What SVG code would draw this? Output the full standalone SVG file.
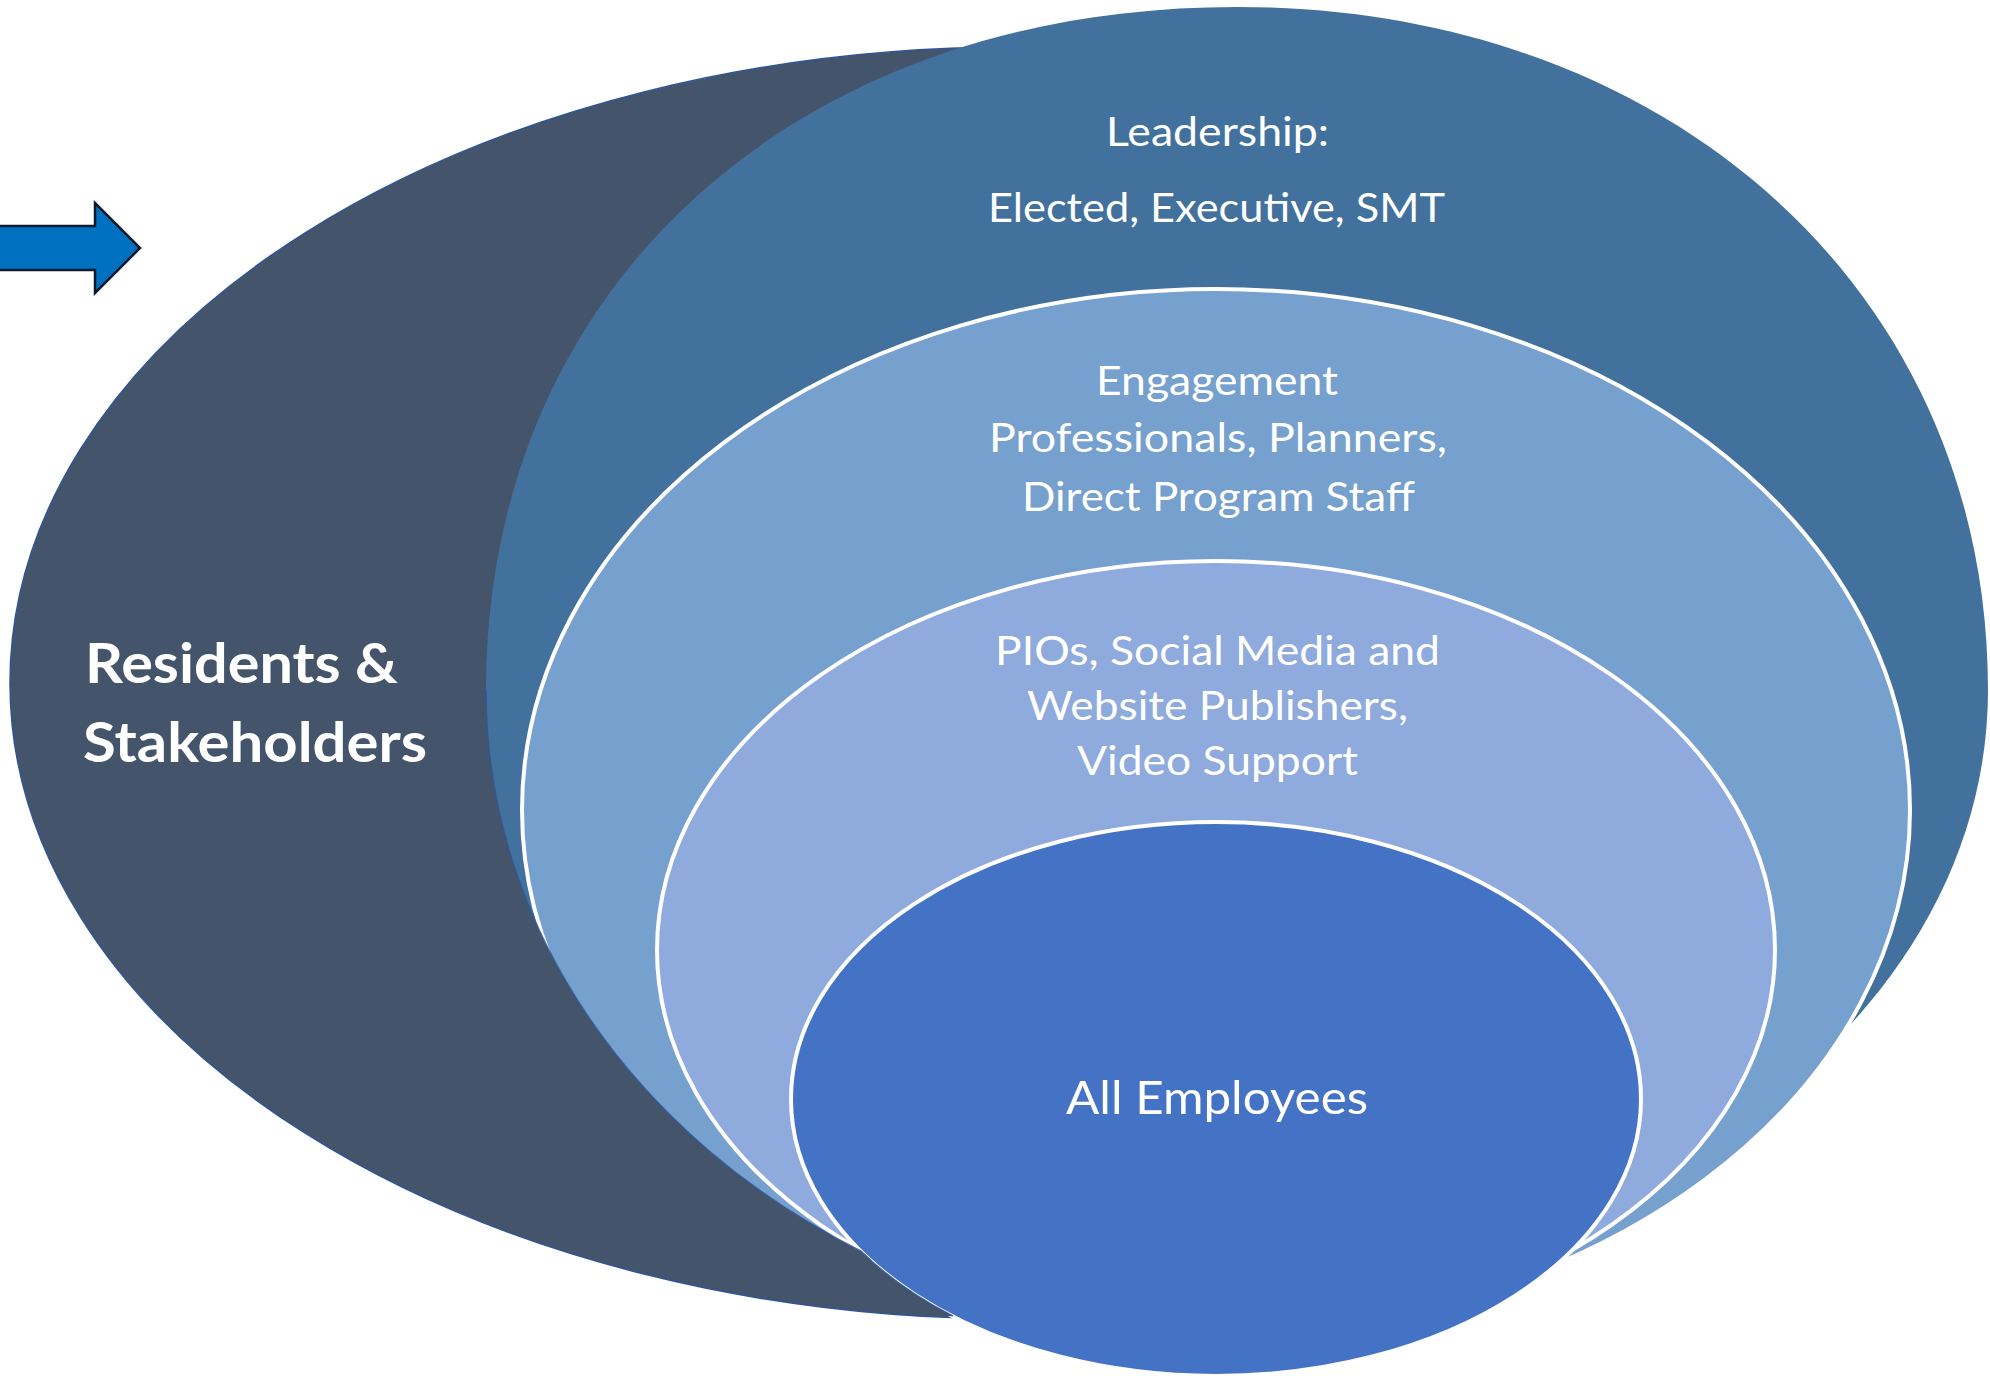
<svg xmlns="http://www.w3.org/2000/svg" width="1990" height="1376" viewBox="0 0 1990 1376">
<style>
.txt{font-family:Lato,"Liberation Sans",sans-serif;fill:#ffffff;}
.reg{font-size:40px;}
.big{font-size:47px;}
.bold{font-size:56px;font-weight:bold;}
.ring{stroke:#ffffff;stroke-width:4;}
</style>
<defs>
<clipPath id="cut">
<path clip-rule="evenodd" d="M0,0 H1990 V1376 H0 Z M0,690 L486,690 C486,929.8 637,1139.2 861.3,1251.2 A422.5 274.5 0 0 0 953,1316 L0,1376 Z"/>
</clipPath>
</defs>
<rect width="1990" height="1376" fill="#ffffff"/>
<g id="residents">
<path fill="#44546A" stroke="#2F5597" stroke-width="1.5" d="M1015,47 A1005,636 0 0 0 10,683 A1005,636 0 0 0 1015,1319 Z"/>
<text class="txt bold" x="85" y="683" textLength="313" lengthAdjust="spacingAndGlyphs">Residents &amp;</text>
<text class="txt bold" x="83" y="762" textLength="344" lengthAdjust="spacingAndGlyphs">Stakeholders</text>
</g>
<g id="leadership">
<path fill="#41719C" d="M486,690 C486,287 794,7 1237,7 C1672.6,7 1988,293.9 1988,690 C1988,1010.3 1651.8,1270 1237,1270 L1237,1338 C822.2,1338 486,1047.9 486,690 Z"/>
<text class="txt reg" x="1106" y="146" textLength="223" lengthAdjust="spacingAndGlyphs">Leadership:</text>
<text class="txt reg" x="988" y="222" textLength="457" lengthAdjust="spacingAndGlyphs">Elected, Executive, SMT</text>
</g>
<g id="engagement">
<ellipse class="ring" clip-path="url(#cut)" cx="1216" cy="810" rx="694" ry="521" fill="#76A0CD"/>
<text class="txt reg" x="1096" y="395" textLength="242" lengthAdjust="spacingAndGlyphs">Engagement</text>
<text class="txt reg" x="989" y="452" textLength="458" lengthAdjust="spacingAndGlyphs">Professionals, Planners,</text>
<text class="txt reg" x="1022" y="511" textLength="393" lengthAdjust="spacingAndGlyphs">Direct Program Staff</text>
</g>
<g id="pios">
<ellipse class="ring" clip-path="url(#cut)" cx="1216" cy="950" rx="559" ry="389" fill="#8FAADC"/>
<text class="txt reg" x="995" y="665" textLength="445" lengthAdjust="spacingAndGlyphs">PIOs, Social Media and</text>
<text class="txt reg" x="1027" y="720" textLength="381" lengthAdjust="spacingAndGlyphs">Website Publishers,</text>
<text class="txt reg" x="1077" y="775" textLength="281" lengthAdjust="spacingAndGlyphs">Video Support</text>
</g>
<g id="employees">
<ellipse class="ring" clip-path="url(#cut)" cx="1216" cy="1099" rx="425" ry="277" fill="#4472C4"/>
<text class="txt big" x="1066" y="1114" textLength="302" lengthAdjust="spacingAndGlyphs">All Employees</text>
</g>
<g id="residents-edge">
<path fill="none" stroke="#2F5597" stroke-width="1.5" stroke-opacity="0.8" d="M486,690 C486,929.8 637,1139.2 861.3,1251.2 A422.5 274.5 0 0 0 953,1316"/>
</g>
<g id="connectors">
<path fill="#0070C0" stroke="#0C1A2B" stroke-width="2.5" stroke-linejoin="miter" d="M-5,226 L95,226 L95,203 L140,248 L95,293 L95,270 L-5,270 Z"/>
</g>
</svg>
